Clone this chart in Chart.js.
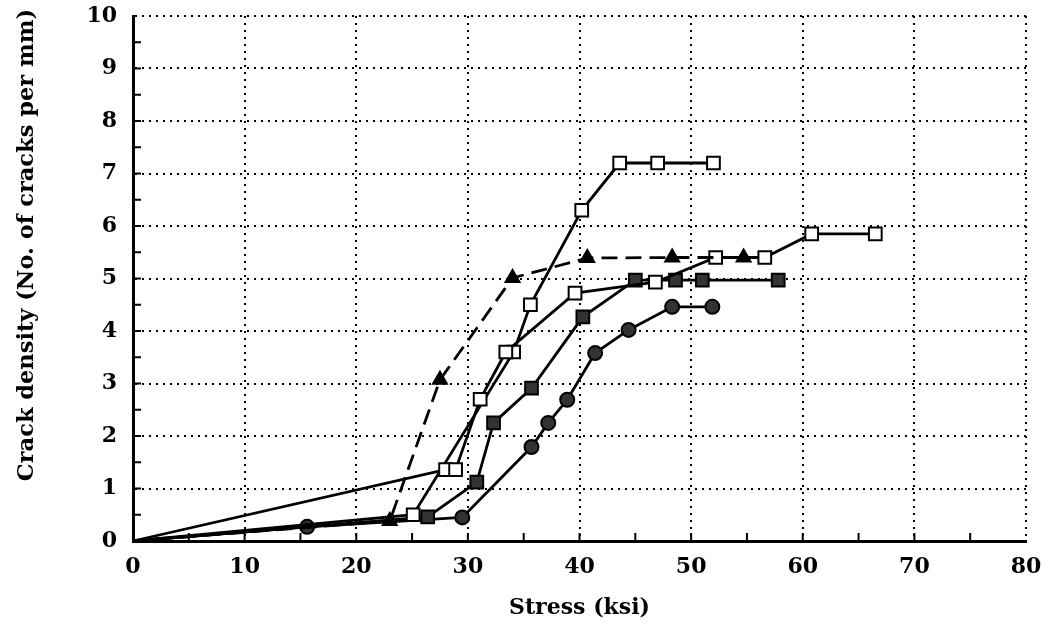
<!DOCTYPE html>
<html>
<head>
<meta charset="utf-8">
<script src="https://cdn.jsdelivr.net/npm/chart.js@4.4.0/dist/chart.umd.min.js"></script>
<style>
  html, body { margin: 0; padding: 0; background: #fff; }
  #wrap { width: 1047px; height: 629px; position: relative; }
</style>
</head>
<body>
<div id="wrap"><canvas id="crackChart"></canvas></div>
<script>
// values: stress (ksi) vs crack density (cracks per mm)
const circleStress   = [0, 15.6, 29.5, 35.7, 37.2, 38.9, 41.4, 44.4, 48.3, 51.9];
const circleDensity  = [0, 0.27, 0.45, 1.79, 2.25, 2.69, 3.58, 4.02, 4.46, 4.46];

const filledStress   = [0, 26.4, 30.8, 32.3, 35.7, 40.3, 45.0, 48.6, 51.0, 57.8];
const filledDensity  = [0, 0.46, 1.12, 2.25, 2.91, 4.27, 4.97, 4.97, 4.97, 4.97];

const triStress      = [0, 23.0, 27.5, 34.0, 40.7, 48.3, 54.7];
const triDensity     = [0, 0.38, 3.07, 5.01, 5.39, 5.40, 5.40];

const openAStress    = [0, 25.1, 34.1, 35.6, 40.2, 43.6, 47.0, 52.0];
const openADensity   = [0, 0.50, 3.60, 4.50, 6.30, 7.20, 7.20, 7.20];

const openBStress    = [0, 28.0, 28.9, 31.1, 33.4, 39.6, 46.8, 52.2, 56.6, 60.8, 66.5];
const openBDensity   = [0, 1.36, 1.36, 2.70, 3.60, 4.72, 4.93, 5.40, 5.40, 5.85, 5.85];

const xTickLabels = [0, 10, 20, 30, 40, 50, 60, 70, 80];
const yTickLabels = [0, 1, 2, 3, 4, 5, 6, 7, 8, 9, 10];

function pts(xs, ys) {
    return xs.map((x, i) => ({ x: x, y: ys[i] }));
}

const FONT = "'DejaVu Serif', serif";
Chart.defaults.font.family = FONT;
Chart.defaults.font.weight = 'bold';
Chart.defaults.font.size = 22;
Chart.defaults.color = '#000';

// small inward tick marks at half steps, drawn through the scales
const minorTicks = {
    id: 'minorTicks',
    afterDraw(chart) {
        const { ctx, chartArea: a, scales: { x, y } } = chart;
        ctx.save();
        ctx.strokeStyle = '#000';
        ctx.lineWidth = 2;
        ctx.beginPath();
        for (let v = 5; v < 80; v += 5) {
            const px = x.getPixelForValue(v);
            ctx.moveTo(px, a.bottom);
            ctx.lineTo(px, a.bottom - 8);
        }
        for (let v = 0.5; v < 10; v += 0.5) {
            const py = y.getPixelForValue(v);
            ctx.moveTo(a.left, py);
            ctx.lineTo(a.left + 8, py);
        }
        ctx.stroke();
        ctx.restore();
    }
};

// y title sits a bit above the axis centre in the original
const yTitle = {
    id: 'yTitle',
    afterDraw(chart) {
        const ctx = chart.ctx;
        ctx.save();
        ctx.translate(27, 245);
        ctx.rotate(-Math.PI / 2);
        ctx.font = 'bold 22.5px ' + FONT;
        ctx.fillStyle = '#000';
        ctx.textAlign = 'center';
        ctx.textBaseline = 'middle';
        ctx.fillText('Crack density (No. of cracks per mm)', 0, 0);
        ctx.restore();
    }
};

function series(xs, ys, style, fill, radius, dash) {
    return {
        data: pts(xs, ys),
        showLine: true,
        borderColor: '#000',
        borderWidth: 2.8,
        borderDash: dash || [],
        pointStyle: style,
        // no marker at the origin
        pointRadius: c => (c.dataIndex === 0 ? 0 : radius),
        pointBackgroundColor: fill,
        pointBorderColor: '#000',
        pointBorderWidth: 2,
        tension: 0,
        clip: false
    };
}

new Chart(document.getElementById('crackChart'), {
    type: 'scatter',
    data: {
        datasets: [
            series(triStress, triDensity, 'triangle', '#000', 8, [16, 8]),
            series(openBStress, openBDensity, 'rect', '#fff', 9),
            series(openAStress, openADensity, 'rect', '#fff', 9),
            series(filledStress, filledDensity, 'rect', '#333', 9),
            series(circleStress, circleDensity, 'circle', '#333', 7)
        ]
    },
    options: {
        responsive: true,
        maintainAspectRatio: false,
        animation: false,
        layout: { padding: { top: 16, right: 21, left: 0, bottom: 0 } },
        plugins: { legend: { display: false }, tooltip: { enabled: false } },
        scales: {
            x: {
                type: 'linear',
                min: 0,
                max: 80,
                afterFit: s => { s.height = 88; s.paddingLeft = 0; s.paddingRight = 0; },
                afterBuildTicks: s => { s.ticks = xTickLabels.map(v => ({ value: v })); },
                grid: { color: '#000', lineWidth: 2, drawTicks: false },
                border: { color: '#000', width: 3, dash: [2, 5] },
                ticks: { padding: 13 },
                title: {
                    display: true,
                    text: 'Stress (ksi)',
                    font: { size: 22, weight: 'bold' },
                    padding: { top: 0, bottom: 8 }
                }
            },
            y: {
                type: 'linear',
                min: 0,
                max: 10,
                afterFit: s => { s.width = 133; s.paddingTop = 0; s.paddingBottom = 0; },
                afterBuildTicks: s => { s.ticks = yTickLabels.map(v => ({ value: v })); },
                grid: { color: '#000', lineWidth: 2, drawTicks: false },
                border: { color: '#000', width: 3, dash: [2, 5] },
                ticks: { padding: 16 }
            }
        }
    },
    plugins: [minorTicks, yTitle]
});
</script>
</body>
</html>
